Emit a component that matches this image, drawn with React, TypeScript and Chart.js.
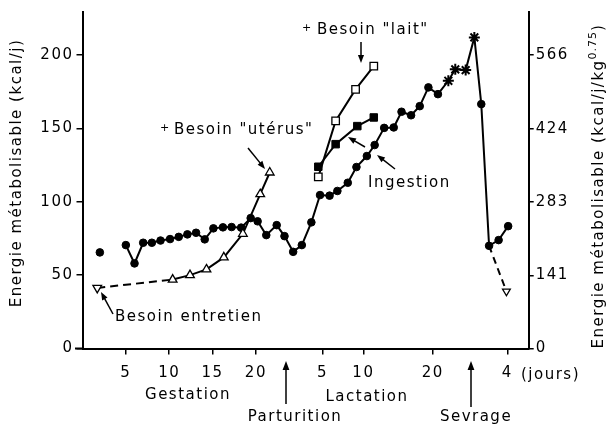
import React, { useEffect, useRef } from 'react';
import { Chart, registerables } from 'chart.js';

Chart.register(...registerables);

// ---- Data (x = position on the time axis, in gestation-day units from mating) ----
const ingestionDay = [2.0, 5.0, 6.0, 7.0, 8.0, 9.0, 10.1, 11.1, 12.1, 13.1, 14.1, 15.1, 16.2, 17.2, 18.3, 19.4, 20.2, 21.2, 22.4, 23.3, 24.3, 25.3, 26.4, 27.4, 28.5, 29.4, 30.6, 31.6, 32.8, 33.7, 34.8, 35.9, 36.8, 37.9, 38.9, 39.9, 41.0, 42.2, 43.0, 44.2, 45.2, 46.0, 46.9, 48.0, 49.1];
const ingestionKcal = [65.5, 70.5, 58.0, 72.1, 72.1, 73.6, 74.6, 76.1, 77.8, 78.9, 74.4, 81.9, 82.6, 82.8, 82.4, 88.9, 86.7, 77.3, 84.1, 76.6, 65.9, 70.5, 86.0, 104.6, 104.2, 107.4, 113.0, 123.7, 131.2, 138.7, 150.4, 150.7, 161.4, 159.0, 165.2, 178.0, 173.4, 182.5, 190.3, 189.8, 212.1, 166.6, 70.0, 73.9, 83.4];
const ingestionStarIdx = [37, 38, 39, 40];

const uterusDay = [1.7, 10.4, 12.4, 14.3, 16.3, 18.5, 20.5, 21.6];
const uterusKcal = [41.3, 47.0, 50.0, 53.9, 62.1, 78.2, 105.2, 120.0];

const weanDay = [46.9, 48.9];
const weanKcal = [70.0, 39.0];

const milkOpenDay = [27.2, 29.2, 31.5, 33.6];
const milkOpenKcal = [117.0, 155.2, 176.6, 192.5];
const milkFilledDay = [27.2, 29.2, 31.7, 33.6];
const milkFilledKcal = [123.9, 139.3, 151.6, 157.5];

const xTickPos = [5, 10, 15, 20, 27.7, 32.4, 40.4, 49.0];
const xTickLabels = ['5', '10', '15', '20', '5', '10', '20', '4'];
const yLeftTicks = [0, 50, 100, 150, 200];
const yRightTicks = [0, 141, 283, 424, 566];
const rightFactor = 2.83;
const yMax = 229.4;

const FONT = '"DejaVu Sans", sans-serif';
const SPACING = '1.5px';
const FS = 15;

function arrow(ctx: CanvasRenderingContext2D, x1: number, y1: number, x2: number, y2: number, head = 8) {
  const a = Math.atan2(y2 - y1, x2 - x1);
  const c = Math.cos(a), s = Math.sin(a);
  ctx.beginPath();
  ctx.moveTo(x1, y1);
  ctx.lineTo(x2 - c * head * 0.7, y2 - s * head * 0.7);
  ctx.stroke();
  const w = head * 0.38;
  ctx.beginPath();
  ctx.moveTo(x2, y2);
  ctx.lineTo(x2 - head * c + w * s, y2 - head * s - w * c);
  ctx.lineTo(x2 - head * c - w * s, y2 - head * s + w * c);
  ctx.closePath();
  ctx.fill();
}

const annotations = {
  id: 'annotations',
  beforeDraw(chart: any) {
    (chart.ctx as any).letterSpacing = SPACING;
  },
  afterDraw(chart: any) {
    const ctx: CanvasRenderingContext2D = chart.ctx;
    const area = chart.chartArea;
    ctx.save();
    (ctx as any).letterSpacing = SPACING;
    ctx.fillStyle = '#000';
    ctx.strokeStyle = '#000';
    ctx.lineWidth = 1.5;
    ctx.font = `${FS}px ${FONT}`;
    ctx.textBaseline = 'middle';

    // x-axis line extending slightly left of the y axis
    ctx.lineWidth = 2;
    ctx.beginPath();
    ctx.moveTo(75, area.bottom);
    ctx.lineTo(area.left, area.bottom);
    ctx.stroke();
    ctx.lineWidth = 1.5;

    // Left axis title
    ctx.save();
    ctx.translate(17, 173);
    ctx.rotate(-Math.PI / 2);
    ctx.textAlign = 'center';
    ctx.fillText('Energie métabolisable (kcal/j)', 0, 0);
    ctx.restore();

    // Right axis title with superscript
    ctx.save();
    ctx.translate(599, 186);
    ctx.rotate(-Math.PI / 2);
    ctx.textAlign = 'left';
    const main = 'Energie métabolisable (kcal/j/kg';
    const sup = '0.75';
    const close = ')';
    ctx.font = `${FS}px ${FONT}`;
    const w1 = ctx.measureText(main).width;
    const w3 = ctx.measureText(close).width;
    ctx.font = `11px ${FONT}`;
    (ctx as any).letterSpacing = '1px';
    const w2 = ctx.measureText(sup).width;
    const start = -(w1 + w2 + w3) / 2;
    ctx.font = `${FS}px ${FONT}`;
    (ctx as any).letterSpacing = SPACING;
    ctx.fillText(main, start, 0);
    ctx.font = `11px ${FONT}`;
    (ctx as any).letterSpacing = '1px';
    ctx.fillText(sup, start + w1, -6);
    ctx.font = `${FS}px ${FONT}`;
    (ctx as any).letterSpacing = SPACING;
    ctx.fillText(close, start + w1 + w2, 0);
    ctx.restore();

    // Below x axis
    ctx.textAlign = 'center';
    ctx.fillText('Gestation', 188, 395);
    ctx.fillText('Lactation', 367, 397);
    ctx.fillText('Parturition', 295, 417);
    ctx.fillText('Sevrage', 476, 417);
    ctx.textAlign = 'left';
    ctx.fillText('(jours)', 521, 375);
    arrow(ctx, 286, 404, 286, 361, 9);
    arrow(ctx, 471, 407, 471, 361, 9);

    // In-plot annotations
    ctx.fillText('Besoin entretien', 115, 317);
    arrow(ctx, 113, 314, 101, 292);

    ctx.font = `11px ${FONT}`;
    ctx.fillText('+', 160, 128);
    ctx.font = `${FS}px ${FONT}`;
    ctx.fillText('Besoin "utérus"', 174, 130);
    arrow(ctx, 248, 148, 265, 169);

    ctx.font = `11px ${FONT}`;
    ctx.fillText('+', 302, 28);
    ctx.font = `${FS}px ${FONT}`;
    ctx.fillText('Besoin "lait"', 317, 30);
    arrow(ctx, 361, 42, 361, 63);

    ctx.fillText('Ingestion', 368, 183);
    arrow(ctx, 395, 169, 377, 155);
    arrow(ctx, 365, 147, 348, 137);

    ctx.restore();
  },
};

export default function App() {
  const canvasRef = useRef<HTMLCanvasElement | null>(null);

  useEffect(() => {
    const canvas = canvasRef.current;
    if (!canvas) return;

    const tickFont = { family: FONT, size: FS };

    const chart = new Chart(canvas, {
      type: 'line',
      data: {
        datasets: [
          {
            label: 'Besoin utérus',
            data: uterusDay.map((d, i) => ({ x: d, y: uterusKcal[i] })),
            borderColor: '#000',
            borderWidth: 2,
            pointStyle: 'triangle',
            pointRadius: 5,
            pointRotation: (c: any) => (c.dataIndex === 0 ? 180 : 0),
            pointBackgroundColor: '#fff',
            pointBorderColor: '#000',
            pointBorderWidth: 1.3,
            segment: { borderDash: (c: any) => (c.p0DataIndex === 0 ? [8, 5] : undefined) },
            order: 0,
            yAxisID: 'y',
          } as any,
          {
            label: 'Entretien sevrage',
            data: weanDay.map((d, i) => ({ x: d, y: weanKcal[i] })),
            borderColor: '#000',
            borderWidth: 2,
            borderDash: [7, 5],
            pointStyle: 'triangle',
            pointRadius: (c: any) => (c.dataIndex === 0 ? 0 : 4.5),
            pointRotation: 180,
            pointBackgroundColor: '#fff',
            pointBorderColor: '#000',
            pointBorderWidth: 1.3,
            order: 2,
            yAxisID: 'y',
          } as any,
          {
            label: 'Ingestion',
            data: ingestionDay.map((d, i) => ({ x: d, y: ingestionKcal[i] })),
            borderColor: '#000',
            borderWidth: 2,
            pointStyle: (c: any) => (ingestionStarIdx.includes(c.dataIndex) ? 'star' : 'circle'),
            pointRadius: (c: any) => (ingestionStarIdx.includes(c.dataIndex) ? 5.5 : 3.8),
            pointBackgroundColor: '#000',
            pointBorderColor: '#000',
            pointBorderWidth: (c: any) => (ingestionStarIdx.includes(c.dataIndex) ? 2 : 1),
            segment: { borderColor: (c: any) => (c.p0DataIndex === 0 ? 'rgba(0,0,0,0)' : undefined) },
            order: 1,
            yAxisID: 'y',
          } as any,
          {
            label: 'Besoin lait',
            data: milkOpenDay.map((d, i) => ({ x: d, y: milkOpenKcal[i] })),
            borderColor: '#000',
            borderWidth: 2,
            pointStyle: 'rect',
            pointRadius: 5.3,
            pointBackgroundColor: '#fff',
            pointBorderColor: '#000',
            pointBorderWidth: 1.3,
            order: 0,
            yAxisID: 'y',
          } as any,
          {
            label: 'Besoin total',
            data: milkFilledDay.map((d, i) => ({ x: d, y: milkFilledKcal[i] })),
            borderColor: '#000',
            borderWidth: 2,
            pointStyle: 'rect',
            pointRadius: 5.3,
            pointBackgroundColor: '#000',
            pointBorderColor: '#000',
            pointBorderWidth: 1,
            order: 0,
            yAxisID: 'y',
          } as any,
        ],
      },
      options: {
        responsive: false,
        devicePixelRatio: 1,
        animation: false,
        clip: false as any,
        layout: { padding: { top: 12, left: 0, right: 0, bottom: 0 } },
        plugins: { legend: { display: false }, tooltip: { enabled: false } },
        scales: {
          x: {
            type: 'linear',
            position: 'bottom',
            min: 0,
            max: 51.47,
            afterBuildTicks: (s: any) => { s.ticks = xTickPos.map((v) => ({ value: v })); },
            afterFit: (s: any) => { s.height = 76.5; },
            ticks: {
              autoSkip: false,
              maxRotation: 0,
              padding: 10,
              color: '#000',
              font: tickFont,
              callback: (_v: any, i: number) => xTickLabels[i],
            },
            grid: { drawOnChartArea: false, drawTicks: true, tickLength: 6, color: '#000', lineWidth: 1.5 },
            border: { display: true, color: '#000', width: 2 },
          },
          y: {
            type: 'linear',
            position: 'left',
            min: 0,
            max: yMax,
            afterBuildTicks: (s: any) => { s.ticks = yLeftTicks.map((v) => ({ value: v })); },
            afterFit: (s: any) => { s.width = 82.5; },
            ticks: { padding: 3, color: '#000', font: tickFont, callback: (v: any) => String(v) },
            grid: { drawOnChartArea: false, drawTicks: true, tickLength: 6, color: '#000', lineWidth: 1.5 },
            border: { display: true, color: '#000', width: 2 },
          },
          y2: {
            type: 'linear',
            position: 'right',
            min: 0,
            max: yMax * rightFactor,
            afterBuildTicks: (s: any) => { s.ticks = yRightTicks.map((v) => ({ value: v })); },
            afterFit: (s: any) => { s.width = 78.3; },
            ticks: { padding: 2, color: '#000', font: tickFont, callback: (v: any) => String(v) },
            grid: { drawOnChartArea: false, drawTicks: true, tickLength: 5, color: '#000', lineWidth: 1.5 },
            border: { display: true, color: '#000', width: 2 },
          },
        },
      } as any,
      plugins: [annotations as any],
    });

    return () => chart.destroy();
  }, []);

  return (
    <div style={{ position: 'absolute', left: 0, top: 0, width: 607, height: 425, background: '#fff' }}>
      <canvas ref={canvasRef} width={607} height={425} style={{ display: 'block', width: 607, height: 425 }} />
    </div>
  );
}
